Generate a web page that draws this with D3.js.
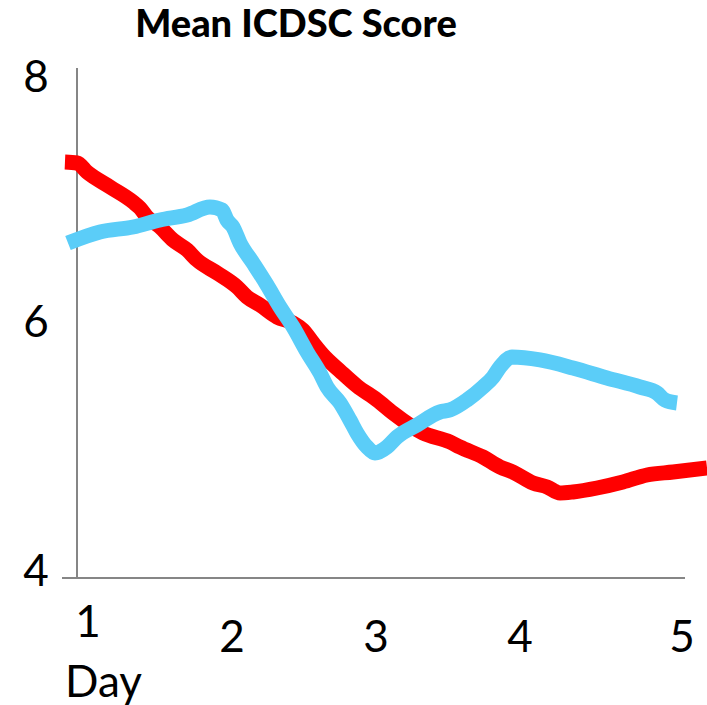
<!DOCTYPE html>
<html><head><meta charset="utf-8">
<script src="https://cdn.jsdelivr.net/npm/d3@7"></script>
<style>body{margin:0;background:#fff}</style>
</head><body>
<script>
const title = "Mean ICDSC Score";
const xLabel = "Day";
const xTickLabels = ["1","2","3","4","5"];
const yTicks = [4, 6, 8];

const redDays = [0.84,0.924,0.993,1.153,1.313,1.361,1.41,1.5,1.59,1.688,1.757,1.896,2.035,2.104,2.194,2.313,2.424,2.493,2.563,2.632,2.75,2.868,3.007,3.118,3.326,3.514,3.583,3.743,3.861,3.951,4.09,4.188,4.278,4.368,4.535,4.715,4.882,5.063,5.299];
const redValues = [7.263,7.255,7.184,7.067,6.949,6.902,6.831,6.753,6.651,6.573,6.494,6.392,6.282,6.204,6.141,6.047,6.0,5.945,5.843,5.749,5.624,5.506,5.396,5.294,5.137,5.067,5.027,4.949,4.871,4.831,4.745,4.714,4.667,4.675,4.706,4.753,4.808,4.831,4.863];

const blueDays = [0.861,1.083,1.313,1.5,1.688,1.847,1.931,1.965,2.007,2.056,2.146,2.243,2.333,2.424,2.521,2.611,2.66,2.75,2.819,2.868,2.938,2.993,3.076,3.146,3.285,3.444,3.514,3.632,3.743,3.813,3.861,3.944,4.139,4.368,4.604,4.833,4.951,5.007,5.09];
const blueValues = [6.627,6.714,6.753,6.808,6.847,6.91,6.886,6.808,6.753,6.627,6.471,6.298,6.125,5.969,5.773,5.608,5.498,5.373,5.239,5.137,5.027,4.98,5.027,5.106,5.2,5.302,5.318,5.396,5.498,5.576,5.655,5.733,5.71,5.647,5.569,5.498,5.451,5.396,5.373];

const W = 707, H = 705;
const svg = d3.select("body").append("svg").attr("width", W).attr("height", H);
const font = "Lato, 'Open Sans', sans-serif";

const x = d3.scaleLinear().domain([1, 5]).range([88, 664]);
const y = d3.scaleLinear().domain([4, 8]).range([578, 68]);

// title
svg.append("text").attr("x", 296).attr("y", 37).attr("text-anchor", "middle")
  .attr("font-family", font).attr("font-weight", 900).attr("font-size", 38)
  .attr("fill", "#000").text(title);

// axes lines
const axisColor = "#868686";
svg.append("line").attr("x1", 77).attr("x2", 77).attr("y1", y(8) ).attr("y2", y(4))
  .attr("stroke", axisColor).attr("stroke-width", 2);
svg.append("line").attr("x1", 62).attr("x2", 685).attr("y1", y(4)).attr("y2", y(4))
  .attr("stroke", axisColor).attr("stroke-width", 2);

// y tick labels
svg.selectAll(".yt").data(yTicks).enter().append("text")
  .attr("x", 36).attr("y", d => y(d) + 14 + (d === 8 ? 10 : d === 4 ? -6 : 0))
  .attr("text-anchor", "middle").attr("font-family", font).attr("font-size", 44)
  .attr("fill", "#000").text(d => d);

// x tick labels
svg.selectAll(".xt").data(xTickLabels).enter().append("text")
  .attr("x", (d, i) => x(i + 1) + (i === 4 ? 18 : 0))
  .attr("y", (d, i) => i === 0 ? 637 : 652)
  .attr("text-anchor", "middle").attr("font-family", font).attr("font-size", 44)
  .attr("fill", "#000").text(d => d);

svg.append("text").attr("x", 65).attr("y", 697).attr("font-family", font)
  .attr("font-size", 44).attr("fill", "#000").text(xLabel);

const line = d3.line().x(d => x(d[0])).y(d => y(d[1])).curve(d3.curveMonotoneX);
const red = redDays.map((d, i) => [d, redValues[i]]);
const blue = blueDays.map((d, i) => [d, blueValues[i]]);

svg.append("path").attr("d", line(red)).attr("fill", "none")
  .attr("stroke", "#ff0000").attr("stroke-width", 15).attr("stroke-linejoin", "round");
svg.append("path").attr("d", line(blue)).attr("fill", "none")
  .attr("stroke", "#5bcdf8").attr("stroke-width", 15).attr("stroke-linejoin", "round");
</script>
</body></html>
